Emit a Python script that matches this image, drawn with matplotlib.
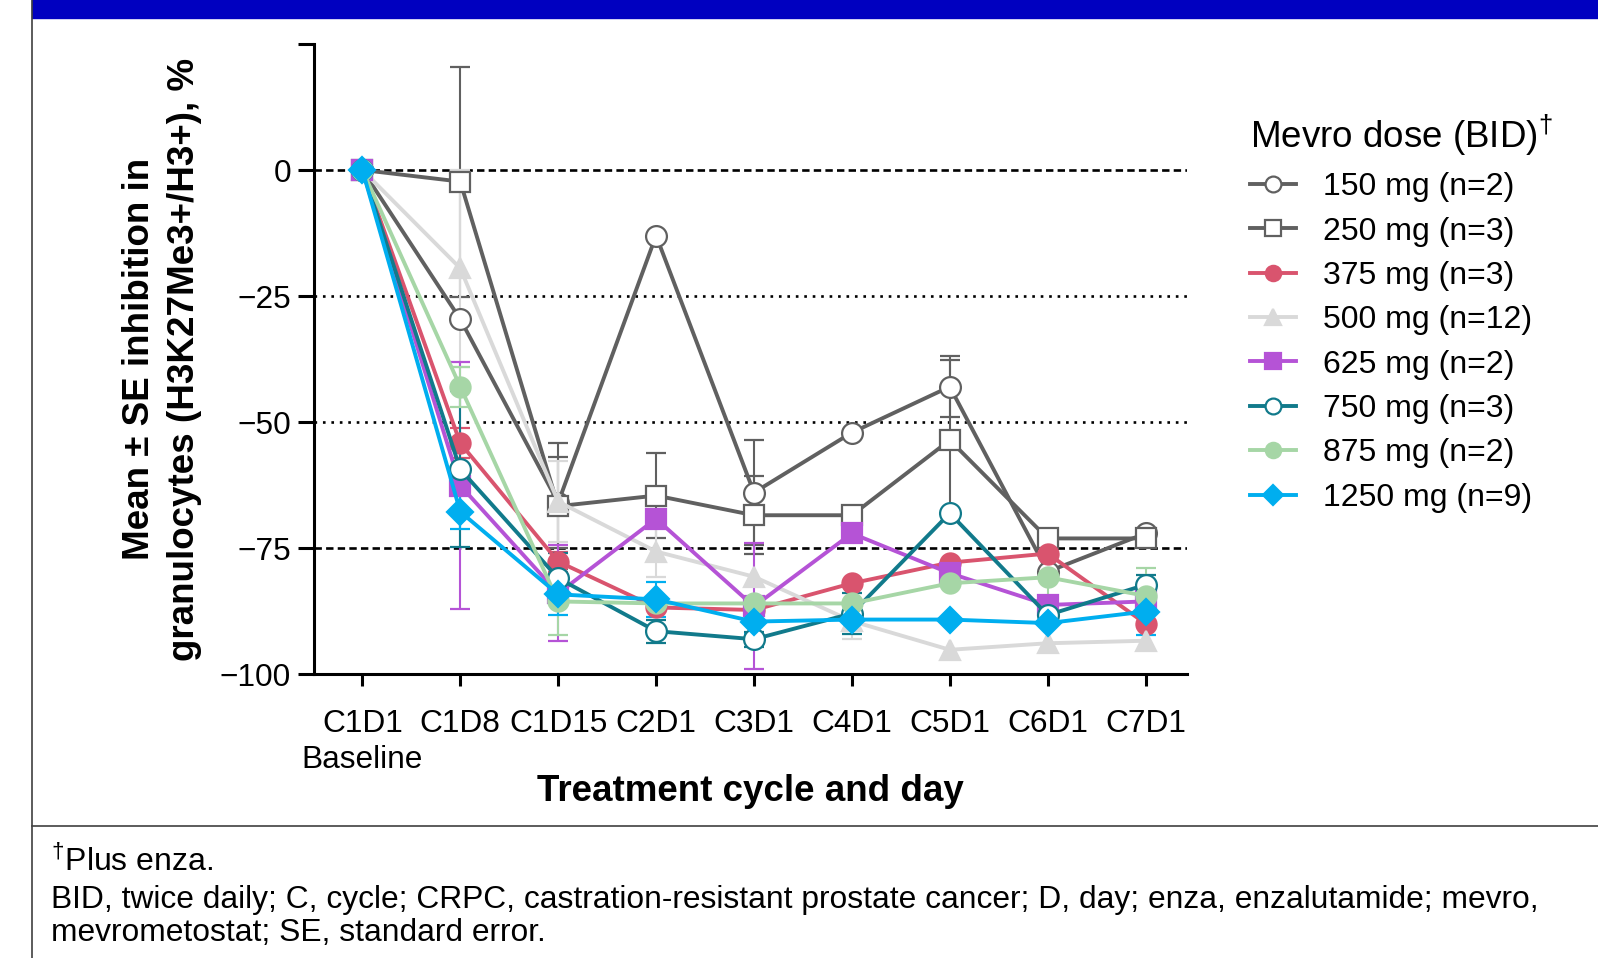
import matplotlib
matplotlib.use("Agg")

import numpy as np
import matplotlib.pyplot as plt
from matplotlib.lines import Line2D
from matplotlib.patches import Rectangle

plt.rcParams["font.family"] = ["Liberation Sans", "DejaVu Sans"]
plt.rcParams["mathtext.fontset"] = "custom"
plt.rcParams["mathtext.rm"] = "Liberation Sans"

nan = np.nan

# visits on the x axis
visits = ["C1D1\nBaseline", "C1D8", "C1D15", "C2D1", "C3D1", "C4D1", "C5D1", "C6D1", "C7D1"]

# mean inhibition (%) and SE per dose group
mean_150 = [0, -29.6, -66.0, -13.0, -64.0, -52.1, -43.0, -79.7, -72.1]
se_150 = [nan, nan, 9.0, nan, 10.5, nan, 6.0, nan, nan]
mean_250 = [0, -2.3, -66.7, -64.6, -68.5, -68.5, -53.6, -73.1, -73.1]
se_250 = [nan, 22.8, 12.5, 8.5, 7.7, nan, 16.0, nan, nan]
mean_375 = [0, -54.2, -77.7, -86.8, -87.3, -82.0, -77.9, -76.1, -90.0]
se_375 = [nan, 3.0, 2.0, nan, nan, nan, nan, nan, nan]
mean_500 = [0, -19.5, -65.8, -75.7, -80.7, -89.5, -95.2, -93.9, -93.4]
se_500 = [nan, 19.5, 8.0, 5.0, nan, 3.5, nan, nan, nan]
mean_625 = [0, -62.6, -84.0, -69.2, -86.6, -72.1, -80.0, -86.3, -85.6]
se_625 = [nan, 24.5, 9.5, nan, 12.5, nan, nan, nan, nan]
mean_750 = [0, -59.4, -81.0, -91.5, -93.1, -88.0, -68.1, -88.3, -82.3]
se_750 = [nan, 15.5, 5.0, 2.3, 1.5, 4.0, nan, nan, 2.0]
mean_875 = [0, -43.0, -85.6, -86.0, -86.0, -86.0, -82.0, -80.8, -84.5]
se_875 = [nan, 4.0, 6.6, nan, nan, nan, nan, 6.0, 5.5]
mean_1250 = [0, -67.8, -84.2, -85.2, -89.6, -89.2, -89.2, -89.9, -87.6]
se_1250 = [nan, 3.5, 4.0, 3.5, 2.5, nan, nan, nan, 4.6]

labels = ["150 mg (n=2)", "250 mg (n=3)", "375 mg (n=3)", "500 mg (n=12)",
          "625 mg (n=2)", "750 mg (n=3)", "875 mg (n=2)", "1250 mg (n=9)"]
means = [mean_150, mean_250, mean_375, mean_500, mean_625, mean_750, mean_875, mean_1250]
ses = [se_150, se_250, se_375, se_500, se_625, se_750, se_875, se_1250]

# styling per group
colors = ["#606060", "#606060", "#d9546e", "#d9d9d9", "#b553d6", "#117a8b", "#a6d6a6", "#00aeef"]
markers = ["o", "s", "o", "^", "s", "o", "o", "D"]
filled = [False, False, True, True, True, False, True, True]
msizes = [15, 15, 14.5, 15, 15, 15, 14.5, 13.5]

fig = plt.figure(figsize=(15.98, 9.58), dpi=100)

# frame decorations: blue band, left border, separator
fig.patches.append(Rectangle((31.5 / 1598, 1 - 17.5 / 958), 1, 17.5 / 958,
                             transform=fig.transFigure, color="#0000c0", zorder=0))
fig.lines.append(Line2D([31.5 / 1598, 31.5 / 1598], [0, 1], transform=fig.transFigure,
                        color="#404040", lw=1.2))
fig.lines.append(Line2D([31.5 / 1598, 1], [1 - 826 / 958, 1 - 826 / 958],
                        transform=fig.transFigure, color="#404040", lw=1.2))

ax = fig.add_axes([314 / 1598, 1 - 674 / 958, (1186.7 - 314) / 1598, (674 - 44) / 958])

x = np.arange(len(visits))

# reference lines
ax.axhline(0, color="black", lw=1.9, ls=(0, (2.8, 1.6)), zorder=1)
ax.axhline(-75, color="black", lw=1.9, ls=(0, (2.8, 1.6)), zorder=1)
ax.axhline(-25, color="black", lw=1.9, ls=(0, (1.0, 2.2)), zorder=1)
ax.axhline(-50, color="black", lw=1.9, ls=(0, (1.0, 2.2)), zorder=1)

handles = []
for m, s, c, mk, f, ms, lab in zip(means, ses, colors, markers, filled, msizes, labels):
    cont = ax.errorbar(x, m, yerr=s, color=c, marker=mk, ms=ms,
                       mfc=c if f else "white", mec=c, mew=1.6,
                       lw=2.8, elinewidth=1.5, capsize=7.5, capthick=1.5, label=lab)
    handles.append(cont.lines[0])

ax.set_xlim(-0.494, 8.42)
ax.set_ylim(-100, 25)
ax.set_yticks([25, 0, -25, -50, -75, -100])
ax.set_yticklabels(["", "0", "\u221225", "\u221250", "\u221275", "\u2212100"])
ax.set_xticks(x)
ax.set_xticklabels(visits, linespacing=1.25)

for side in ["top", "right"]:
    ax.spines[side].set_visible(False)
for side in ["left", "bottom"]:
    ax.spines[side].set_linewidth(2.2)
ax.tick_params(axis="both", labelsize=22.8, width=2.2)
ax.tick_params(axis="y", length=11.5, pad=5)
ax.tick_params(axis="x", length=8.5, pad=17)

ax.set_xlabel("Treatment cycle and day", fontsize=26.5, fontweight="bold", labelpad=-1)
ax.set_ylabel("Mean \u00b1 SE inhibition in\ngranulocytes (H3K27Me3+/H3+), %",
              fontsize=26.5, fontweight="bold", labelpad=13, linespacing=1.38)

leg = fig.legend(handles=handles, labels=labels, loc="upper left",
                 bbox_to_anchor=(1250 / 1598, 1 - 112 / 958),
                 frameon=False, fontsize=23, title="Mevro dose (BID)$^{\\dagger}$",
                 title_fontsize=26.5, alignment="left", handlelength=1.45,
                 handletextpad=0.82, labelspacing=0.45, borderpad=0,
                 borderaxespad=0, markerscale=0.76)

# footnotes
fig.text(51 / 1598, 1 - 862 / 958, "$^{\\dagger}$Plus enza.", fontsize=23, va="center")
fig.text(51 / 1598, 1 - 900 / 958,
         "BID, twice daily; C, cycle; CRPC, castration-resistant prostate cancer; D, day; "
         "enza, enzalutamide; mevro,", fontsize=22.9, va="center")
fig.text(51 / 1598, 1 - 933 / 958, "mevrometostat; SE, standard error.",
         fontsize=22.9, va="center")

fig.savefig("out.png", dpi=100)
